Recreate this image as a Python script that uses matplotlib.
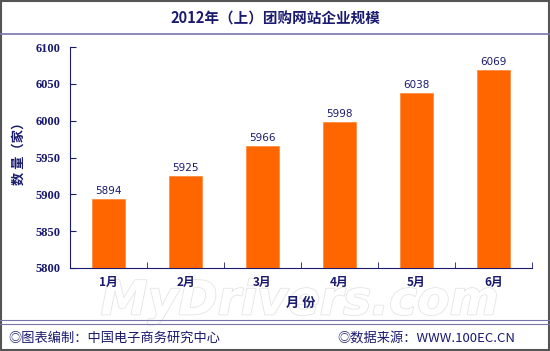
import matplotlib
matplotlib.use("Agg")
import matplotlib.pyplot as plt
import matplotlib.patheffects as pe
from matplotlib.patches import Rectangle
from matplotlib.lines import Line2D

plt.rcParams['font.family'] = ['Noto Sans CJK SC', 'DejaVu Sans']

months = ["1月", "2月", "3月", "4月", "5月", "6月"]
values = [5894, 5925, 5966, 5998, 6038, 6069]
yticks = [5800, 5850, 5900, 5950, 6000, 6050, 6100]

navy = "#1a1a6e"
bar_color = "#ff6600"

fig = plt.figure(figsize=(5.5, 3.51), dpi=100)

# watermark (behind the chart)
fig.text(0.545, 1-302/351, "MyDrivers.com", ha="center", va="center", fontsize=34,
         fontstyle="italic", fontweight="bold", color="white", family=['DejaVu Sans'],
         path_effects=[pe.withStroke(linewidth=1.2, foreground="#e4e4e4")], zorder=0.5)

ax = fig.add_axes([70/550, 1-268/351, 462/550, 221/351])
ax.set_zorder(2)
ax.patch.set_alpha(0)

x = list(range(len(months)))
ax.bar(x, values, width=0.42, color=bar_color, edgecolor="#ff8c40", linewidth=0.6, zorder=3)
for xi, v in zip(x, values):
    ax.text(xi, v + 4, str(v), ha="center", va="bottom", fontsize=7.5, color=navy,
            family=['DejaVu Sans'])

ax.set_xlim(-0.5, len(months) - 0.5)
ax.set_ylim(5800, 6100)
ax.set_yticks(yticks)
ax.set_yticklabels([str(t) for t in yticks], fontsize=9, fontweight="bold", color=navy,
                   family=['Liberation Serif'])
ax.set_xticks(x)
ax.set_xticklabels(months, fontsize=8.5, fontweight="bold", color=navy)
ax.tick_params(axis="x", length=0, pad=6)
ax.set_xticks([i + 0.5 for i in range(-1, len(months))], minor=True)
ax.tick_params(axis="x", which="minor", length=4, direction="in", color=navy)
ax.tick_params(axis="y", length=4, direction="in", color=navy, pad=7)
ax.spines["top"].set_visible(False)
ax.spines["right"].set_visible(False)
ax.spines["left"].set_color(navy)
ax.spines["bottom"].set_color(navy)
ax.set_xlabel("月 份", fontsize=9.5, fontweight="bold", color=navy)
ax.xaxis.set_label_coords(0.5, -(296-268)/221)
ax.set_ylabel("数 量（家）", fontsize=9.5, fontweight="bold", color=navy)
ax.yaxis.set_label_coords(-(70-26)/462, (268-150)/221)

# title and frame
fig.text(0.5, 1-19/351, "2012年（上）团购网站企业规模", ha="center", va="center",
         fontsize=10.5, fontweight="bold", color=navy)
fig.add_artist(Line2D([0, 1], [1-34/351]*2, color="#7777aa", linewidth=1.2))
fig.add_artist(Line2D([0, 1], [1-320/351]*2, color="#7777aa", linewidth=0.8))
fig.add_artist(Line2D([0, 1], [1-324/351]*2, color="#7777aa", linewidth=0.8))
fig.add_artist(Rectangle((0.002, 0.003), 0.996, 0.994, fill=False, edgecolor="#555555",
                         linewidth=1.5, transform=fig.transFigure))

fig.text(8/550, 1-338/351, "◎图表编制：中国电子商务研究中心", ha="left", va="center",
         fontsize=9.5, color=navy)
fig.text(515/550, 1-338/351, "◎数据来源：WWW.100EC.CN", ha="right", va="center",
         fontsize=9.5, color=navy)

fig.savefig("out.png", dpi=100)
